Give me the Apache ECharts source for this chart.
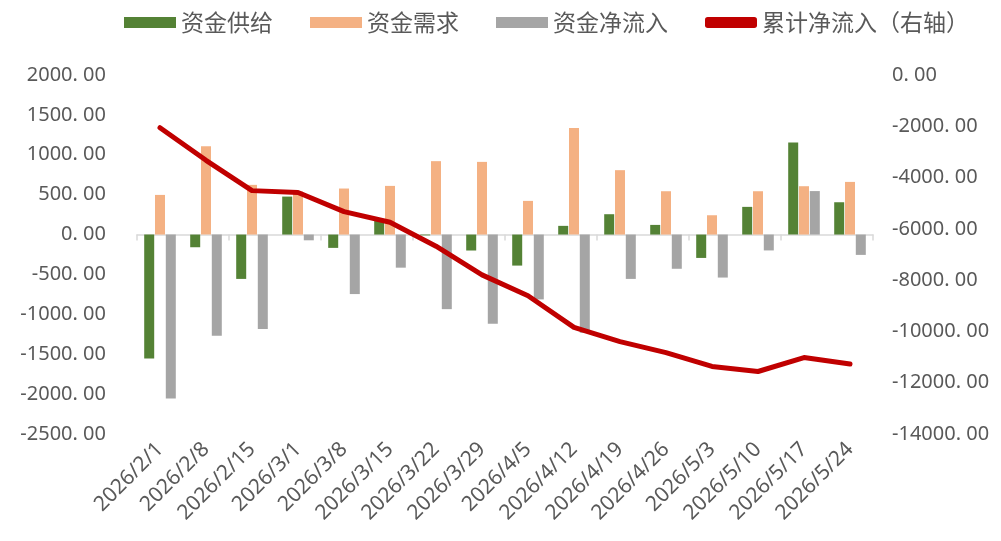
<!DOCTYPE html>
<html>
<head>
<meta charset="utf-8">
<script src="https://cdn.jsdelivr.net/npm/echarts@6/dist/echarts.min.js"></script>
<style>
  html, body { margin: 0; padding: 0; background: #fff; }
  #chart { width: 1001px; height: 541px; }
</style>
</head>
<body>
<div id="chart"></div>
<script>
const dates = [
  '2026/2/1', '2026/2/8', '2026/2/15', '2026/3/1', '2026/3/8', '2026/3/15',
  '2026/3/22', '2026/3/29', '2026/4/5', '2026/4/12', '2026/4/19', '2026/4/26',
  '2026/5/3', '2026/5/10', '2026/5/17', '2026/5/24'
]

// 资金供给
const supply = [-1554, -159, -556, 476, -167, 195, -10, -200, -389, 109, 255, 121, -293, 347, 1153, 405]
// 资金需求
const demand = [497, 1107, 623, 540, 577, 610, 920, 911, 422, 1337, 807, 543, 242, 543, 606, 660]
// 资金净流入
const netFlow = [-2056, -1270, -1183, -72, -746, -415, -935, -1118, -813, -1232, -556, -429, -539, -199, 545, -255]
// 累计净流入（右轴）
const cumFlow = [-2055, -3326, -4509, -4581, -5327, -5742, -6677, -7795, -8608, -9840, -10396, -10825, -11364, -11563, -11018, -11273]

const textColor = '#595959'
const fmt = (v) => v.toFixed(2).replace('.', '. ')

const chart = echarts.init(document.getElementById('chart'))

chart.setOption({
  backgroundColor: '#fff',
  animation: false,
  legend: {
    top: 6,
    left: 119,
    itemWidth: 52,
    itemHeight: 11,
    itemGap: 37,
    textStyle: { fontSize: 23, color: textColor, fontFamily: 'Noto Sans CJK SC' },
    data: [
      { name: '资金供给', icon: 'rect' },
      { name: '资金需求', icon: 'rect' },
      { name: '资金净流入', icon: 'rect' },
      { name: '累计净流入（右轴）', icon: 'roundRect', itemStyle: { color: '#C00000' } }
    ]
  },
  grid: { left: 137, right: 128, top: 75, bottom: 107 },
  xAxis: [
    {
      type: 'category',
      data: dates,
      position: 'bottom',
      axisLine: { show: false, onZero: false },
      axisTick: { show: false },
      axisLabel: {
        rotate: 45,
        margin: 12,
        fontSize: 21,
        color: textColor,
        fontFamily: 'Noto Sans',
        interval: 0
      }
    },
    {
      type: 'category',
      data: dates,
      position: 'bottom',
      axisLine: { show: true, onZero: true, onZeroAxisIndex: 0, lineStyle: { color: '#d9d9d9', width: 1.5 } },
      axisTick: { show: true, length: 6, lineStyle: { color: '#d9d9d9', width: 1.5 } },
      axisLabel: { show: false }
    }
  ],
  yAxis: [
    {
      type: 'value',
      min: -2500,
      max: 2000,
      interval: 500,
      axisLine: { show: false },
      axisTick: { show: false },
      splitLine: { show: false },
      axisLabel: { fontSize: 20, color: textColor, margin: 31, formatter: fmt, fontFamily: 'Noto Sans' }
    },
    {
      type: 'value',
      min: -14000,
      max: 0,
      interval: 2000,
      axisLine: { show: false },
      axisTick: { show: false },
      splitLine: { show: false },
      axisLabel: { fontSize: 20, color: textColor, margin: 19, formatter: fmt, fontFamily: 'Noto Sans' }
    }
  ],
  series: [
    {
      name: '资金供给',
      type: 'bar',
      data: supply,
      barWidth: 10,
      barGap: '8%',
      itemStyle: { color: '#548235' }
    },
    {
      name: '资金需求',
      type: 'bar',
      data: demand,
      barWidth: 10,
      barGap: '8%',
      itemStyle: { color: '#F4B183' }
    },
    {
      name: '资金净流入',
      type: 'bar',
      data: netFlow,
      barWidth: 10,
      barGap: '8%',
      itemStyle: { color: '#A5A5A5' }
    },
    {
      name: '累计净流入（右轴）',
      type: 'line',
      yAxisIndex: 1,
      data: cumFlow,
      symbol: 'none',
      z: 5,
      lineStyle: { color: '#C00000', width: 5, cap: 'round', join: 'round' },
      itemStyle: { color: '#C00000' }
    }
  ]
})
</script>
</body>
</html>
